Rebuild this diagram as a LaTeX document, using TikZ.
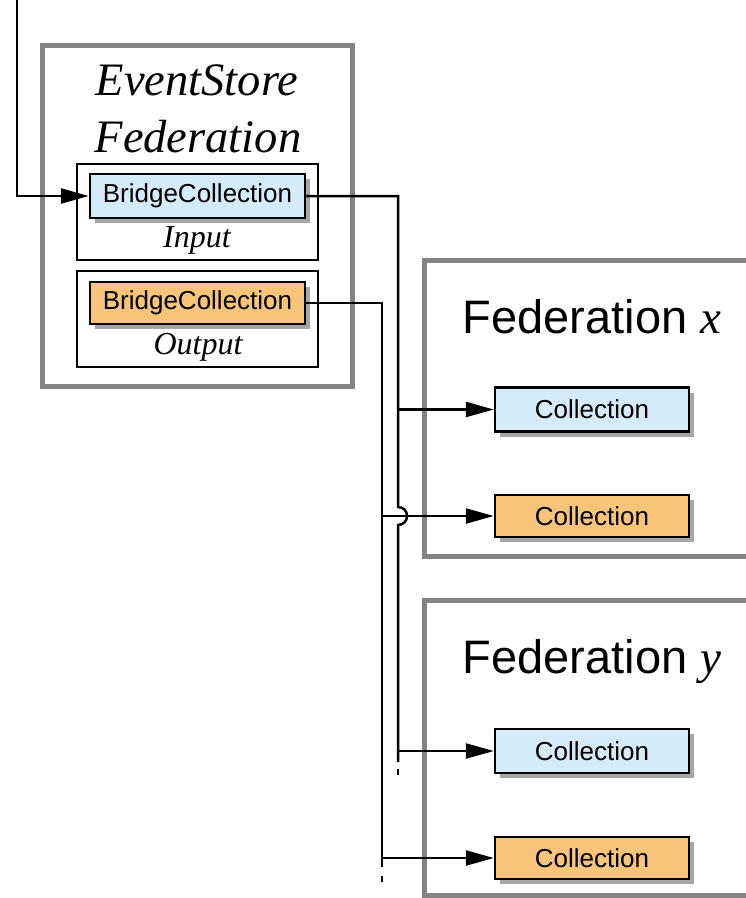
\documentclass[tikz,border=0pt]{standalone}
\usepackage{fontspec}
\setmainfont{Liberation Serif}
\newfontfamily\arialf{Liberation Sans}
\usetikzlibrary{arrows.meta,shadows}
\definecolor{fedgray}{HTML}{838383}
\definecolor{bluef}{HTML}{D5EBF9}
\definecolor{orangef}{HTML}{F7C47A}
\definecolor{shadowc}{HTML}{A6A6A6}
\begin{document}
\begin{tikzpicture}[x=1pt,y=-1pt,
  gbox/.style={draw=fedgray, line width=5pt, rectangle, inner sep=0pt},
  kbox/.style={draw=black, line width=2.5pt, rectangle, inner sep=0pt},
  coll/.style={draw=black, line width=2.5pt, rectangle, inner sep=0pt,
    font=\arialf\fontsize{26}{30}\selectfont,
    drop shadow={shadow xshift=5pt, shadow yshift=-5pt, fill=shadowc, opacity=1}},
  bluec/.style={coll, fill=bluef},
  orangec/.style={coll, fill=orangef},
  conn/.style={line width=2.5pt},
  arr/.style={conn, -{Triangle[length=28pt, width=15pt]}},
  ital/.style={font=\itshape\fontsize{46.5}{50}\selectfont, anchor=base, inner sep=0pt},
  sublbl/.style={font=\itshape\fontsize{32}{36}\selectfont, anchor=base, inner sep=0pt},
  fedlbl/.style={font=\arialf\fontsize{47}{50}\selectfont, anchor=base, inner sep=0pt}]
\useasboundingbox (0,0) rectangle (746,898);
\clip (0,0) rectangle (746,898);

% EventStore Federation container
\node[gbox, minimum width=310pt, minimum height=341pt] (esf) at (197,215.5) {};
\node[ital] (t1) at (197,95) {EventStore};
\node[ital] (t2) at (198,152) {Federation};

\node[kbox, minimum width=241pt, minimum height=96pt] (inbox) at (197.5,212) {};
\node[kbox, minimum width=241pt, minimum height=96pt] (outbox) at (197.5,319) {};
\node[bluec, minimum width=215pt, minimum height=44pt] (inbc) at (197.5,196) {BridgeCollection};
\node[orangec, minimum width=215pt, minimum height=42pt] (outbc) at (197.5,303) {BridgeCollection};
\node[sublbl] (inl) at (197,247) {Input};
\node[sublbl] (outl) at (198,354) {Output};

% Federation x
\node[gbox, minimum width=346pt, minimum height=296pt] (fx) at (597,408) {};
\node[fedlbl] (fxl) at (592,333) {Federation {\rmfamily\itshape x}};
\node[bluec, minimum width=194pt, minimum height=44pt] (c1) at (592,409.5) {Collection};
\node[orangec, minimum width=194pt, minimum height=42pt] (c2) at (592,516) {Collection};

% Federation y
\node[gbox, minimum width=346pt, minimum height=295pt] (fy) at (597,747.5) {};
\node[fedlbl] (fyl) at (592,673) {Federation {\rmfamily\itshape y}};
\node[bluec, minimum width=194pt, minimum height=44pt] (c3) at (592,751) {Collection};
\node[orangec, minimum width=194pt, minimum height=42pt] (c4) at (592,858) {Collection};

% connectors
\coordinate (src) at (17,0);
\coordinate (bx) at (398,0);
\coordinate (ox) at (382,0);
\coordinate (hop) at (398,516);

\draw[arr] (src) |- (inbc.west);

% input bus
\draw[conn] (inbc.east) -| ([yshift=9pt]hop)
  .. controls (410,507) and (410,525) .. ([yshift=-9pt]hop) -- (398,762);
\draw[conn] (398,769) -- (398,775);
\draw[arr] (c1.west -| bx) -- (c1.west);
\draw[arr] (c3.west -| bx) -- (c3.west);

% output bus
\draw[conn] (outbc.east) -| (382,867);
\draw[conn] (382,876) -- (382,882);
\draw[arr] (c2.west -| ox) -- (c2.west);
\draw[arr] (c4.west -| ox) -- (c4.west);
\end{tikzpicture}
\end{document}
